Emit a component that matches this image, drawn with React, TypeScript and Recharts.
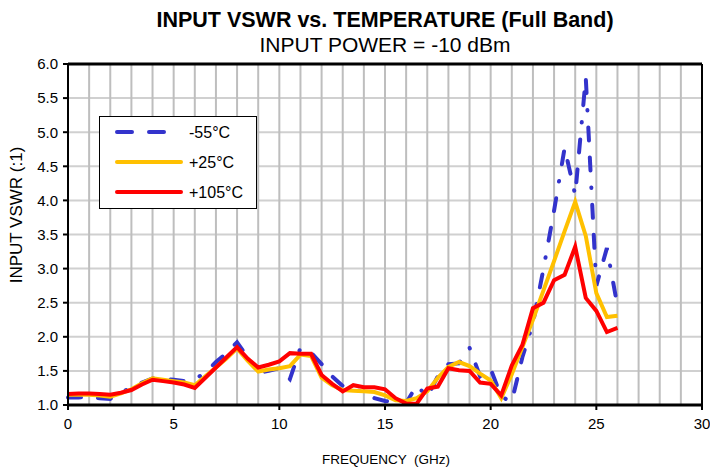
import React from 'react';
import {
    LineChart,
    Line,
    XAxis,
    YAxis,
    CartesianGrid,
    ReferenceLine,
} from 'recharts';

// frequency points (GHz)
const freqs = [
    0, 0.5, 1, 1.5, 2, 2.5, 3, 3.5, 4, 4.5, 5, 5.5, 6, 6.5, 7, 7.5, 8, 8.5, 9, 9.5,
    10, 10.5, 11, 11.5, 12, 12.5, 13, 13.5, 14, 14.5, 15, 15.5, 16, 16.5, 17, 17.5,
    18, 18.5, 19, 19.5, 20, 20.5, 21, 21.5, 22, 22.5, 23, 23.5, 24, 24.5, 25, 25.5, 26,
];

// VSWR at -55°C
const vswrM55 = [
    1.11, 1.11, 1.12, 1.1, 1.09, 1.18, 1.26, 1.33, 1.39, 1.38, 1.37, 1.35, 1.38, 1.47,
    1.63, 1.76, 1.92, 1.7, 1.47, 1.5, 1.54, 1.38, 1.84, 1.77, 1.6, 1.42, 1.28, 1.24,
    1.18, 1.1, 1.06, 1.04, 1.03, 1.29, 1.12, 1.42, 1.6, 1.61, 1.84, 1.42, 1.53, 1.12,
    1.05, 1.7, 2.2, 3.0, 3.85, 4.77, 4.08, 5.8, 2.75, 3.3, 2.45,
];

// VSWR at +25°C
const vswrP25 = [
    1.15, 1.15, 1.15, 1.14, 1.12, 1.17, 1.23, 1.32, 1.39, 1.37, 1.35, 1.33, 1.29, 1.42,
    1.55, 1.68, 1.83, 1.65, 1.49, 1.52, 1.54, 1.57, 1.74, 1.72, 1.4, 1.29, 1.22, 1.21,
    1.2, 1.19, 1.14, 1.07, 1.06, 1.1, 1.2, 1.4, 1.56, 1.63, 1.57, 1.46, 1.36, 1.1,
    1.45, 1.85, 2.25, 2.68, 3.11, 3.55, 3.98, 3.48, 2.64, 2.29, 2.31,
];

// VSWR at +105°C
const vswrP105 = [
    1.16, 1.17, 1.17, 1.16, 1.15, 1.18, 1.22, 1.3, 1.37, 1.35, 1.33, 1.3, 1.25, 1.4,
    1.55, 1.7, 1.85, 1.68, 1.55, 1.59, 1.64, 1.76, 1.75, 1.75, 1.44, 1.31, 1.2, 1.29,
    1.26, 1.26, 1.23, 1.1, 1.02, 1.02, 1.24, 1.27, 1.54, 1.51, 1.5, 1.33, 1.31, 1.14,
    1.58, 1.88, 2.42, 2.5, 2.83, 2.91, 3.32, 2.57, 2.38, 2.07, 2.13,
];

const xTicks = [0, 5, 10, 15, 20, 25, 30];
const xGrid = [
    1, 2, 3, 4, 5, 6, 7, 8, 9, 10, 11, 12, 13, 14, 15, 16, 17, 18, 19, 20, 21, 22, 23,
    24, 25, 26, 27, 28, 29,
];
const yTicks = [1, 1.5, 2, 2.5, 3, 3.5, 4, 4.5, 5, 5.5, 6];

const seriesNames = ['-55°C', '+25°C', '+105°C'];

const BLUE = '#3333cc';
const YELLOW = '#ffc000';
const RED = '#ff0000';
const DASH = '13 17 13 17 0.5 17';
const FONT = '"Liberation Sans", Arial, sans-serif';

const data = freqs.map((f, i) => ({
    f,
    m55: vswrM55[i],
    p25: vswrP25[i],
    p105: vswrP105[i],
}));

export default function App() {
    return (
        <div
            style={{
                position: 'absolute',
                left: 0,
                top: 0,
                width: 710,
                height: 469,
                overflow: 'hidden',
                background: '#fff',
                fontFamily: FONT,
            }}
        >
            <LineChart
                width={710}
                height={469}
                data={data}
                margin={{ top: 64, right: 8, bottom: 0, left: 0 }}
            >
                <CartesianGrid
                    vertical={false}
                    stroke="#d0d0d0"
                    strokeWidth={2}
                    strokeDasharray=""
                />
                {xGrid.map((g) => (
                    <ReferenceLine
                        key={g}
                        x={g}
                        stroke="#bebebe"
                        strokeWidth={2}
                        ifOverflow="extendDomain"
                    />
                ))}
                <ReferenceLine y={6} stroke="#000" strokeWidth={3} />
                <ReferenceLine x={30} stroke="#000" strokeWidth={2} />
                <XAxis
                    dataKey="f"
                    type="number"
                    domain={[0, 30]}
                    ticks={xTicks}
                    height={64}
                    axisLine={{ stroke: '#000', strokeWidth: 3 }}
                    tickLine={{ stroke: '#000', strokeWidth: 2 }}
                    tickSize={5}
                    tickMargin={8}
                    tick={{ fill: '#000', fontSize: 15, fontFamily: FONT }}
                />
                <YAxis
                    type="number"
                    domain={[1, 6]}
                    ticks={yTicks}
                    width={68}
                    allowDataOverflow
                    axisLine={{ stroke: '#000', strokeWidth: 2 }}
                    tickLine={{ stroke: '#000', strokeWidth: 2 }}
                    tickSize={5}
                    tickMargin={5}
                    tickFormatter={(v: number) => v.toFixed(1)}
                    tick={{ fill: '#000', fontSize: 15, fontFamily: FONT }}
                />
                <Line
                    dataKey="m55"
                    type="linear"
                    stroke={BLUE}
                    strokeWidth={4}
                    strokeDasharray={DASH}
                    strokeLinecap="round"
                    dot={false}
                    isAnimationActive={false}
                />
                <Line
                    dataKey="p25"
                    type="linear"
                    stroke={YELLOW}
                    strokeWidth={4}
                    dot={false}
                    isAnimationActive={false}
                />
                <Line
                    dataKey="p105"
                    type="linear"
                    stroke={RED}
                    strokeWidth={4}
                    dot={false}
                    isAnimationActive={false}
                />
            </LineChart>

            {/* titles, axis labels and legend */}
            <svg
                width={710}
                height={469}
                style={{ position: 'absolute', left: 0, top: 0, pointerEvents: 'none' }}
                fontFamily={FONT}
            >
                <text x={385} y={27} textAnchor="middle" fontSize={21.5} fontWeight="bold">
                    INPUT VSWR vs. TEMPERATURE (Full Band)
                </text>
                <text x={385} y={52} textAnchor="middle" fontSize={21}>
                    INPUT POWER = -10 dBm
                </text>
                <text x={386} y={464} textAnchor="middle" fontSize={13.5} xmlSpace="preserve">
                    FREQUENCY  (GHz)
                </text>
                <text
                    x={0}
                    y={0}
                    transform="translate(22,215) rotate(-90)"
                    textAnchor="middle"
                    fontSize={17}
                >
                    INPUT VSWR (:1)
                </text>

                <rect x={99.5} y={116.5} width={157} height={92} fill="#fff" stroke="#000" strokeWidth={1} />
                {seriesNames.map((name, i) => {
                    const y = 132 + i * 30;
                    const color = [BLUE, YELLOW, RED][i];
                    return (
                        <g key={name}>
                            <line
                                x1={117}
                                x2={181}
                                y1={y}
                                y2={y}
                                stroke={color}
                                strokeWidth={4}
                                strokeLinecap="round"
                                strokeDasharray={i === 0 ? '15 17 15 17 0.5 40' : undefined}
                            />
                            <text x={189} y={y + 6} fontSize={16}>
                                {name}
                            </text>
                        </g>
                    );
                })}
            </svg>
        </div>
    );
}
